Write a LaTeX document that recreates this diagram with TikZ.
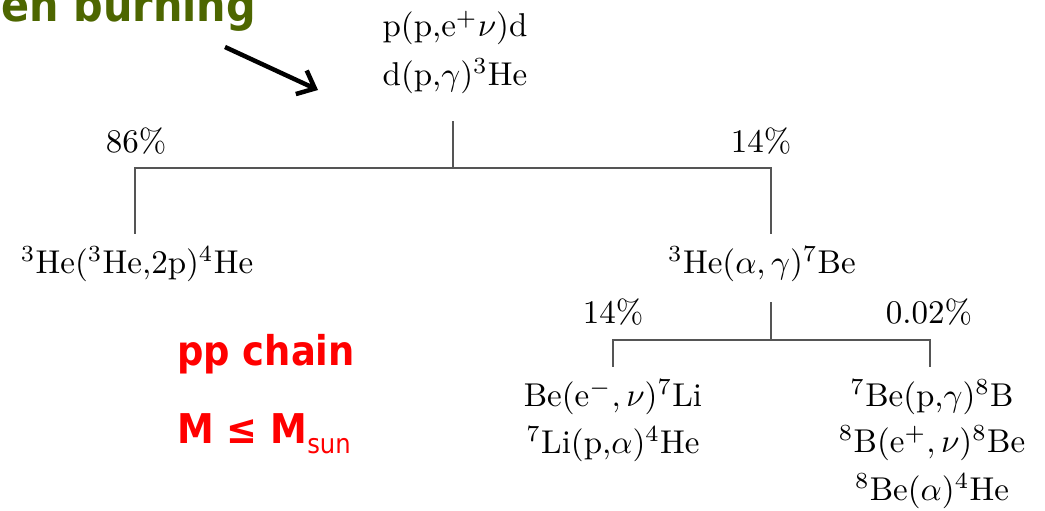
\documentclass[tikz,border=0pt]{standalone}
\usepackage{fontspec}
\newfontfamily\dvs{DejaVu Sans}
\usetikzlibrary{arrows.meta}
\definecolor{hgreen}{RGB}{77,102,0}
\definecolor{treegray}{RGB}{85,85,85}
\newcommand\rxn[1]{\scalebox{3.3}{\fontsize{10}{12}\selectfont #1}}
\begin{document}
\begin{tikzpicture}[x=1pt,y=-1pt,
  tree/.style={draw=treegray,line width=1.5pt},
  rx/.style={inner sep=0pt,anchor=base},
  redtxt/.style={inner sep=0pt,anchor=base west,text=red}]
\useasboundingbox (0,0) rectangle (1045,511);
% title (cut at the edge)
\node[inner sep=0pt,anchor=base east,text=hgreen] (title) at (256,22)
  {\scalebox{0.9}[1]{\dvs\bfseries\fontsize{46}{46}\selectfont en burning}};
\coordinate (as) at (225,47);
\coordinate (ae) at (318,90);
\draw[line width=4.5pt,-{Straight Barb[length=15pt,width=26pt]}] (as) -- (ae);
% reactions
\node[rx] (pp) at (455,37) {\rxn{p(p,e$^+\nu$)d}};
\node[rx] (dp) at (455,85) {\rxn{d(p,$\gamma$)$^3$He}};
\node[rx] (p86) at (136,152) {\rxn{86\%}};
\node[rx] (p14a) at (761,152) {\rxn{14\%}};
\node[rx] (he3) at (137,273) {\rxn{$^3$He($^3$He,2p)$^4$He}};
\node[rx] (be7) at (762,273) {\rxn{$^3$He($\alpha,\gamma$)$^7$Be}};
\node[rx] (p14b) at (613,323) {\rxn{14\%}};
\node[rx] (p002) at (929,323) {\rxn{0.02\%}};
\node[rx] (li1) at (613,406) {\rxn{Be(e$^-,\nu$)$^7$Li}};
\node[rx] (li2) at (613,453) {\rxn{$^7$Li(p,$\alpha$)$^4$He}};
\node[rx] (b1) at (932,406) {\rxn{$^7$Be(p,$\gamma$)$^8$B}};
\node[rx] (b2) at (932,452) {\rxn{$^8$B(e$^+,\nu$)$^8$Be}};
\node[rx] (b3) at (932,500) {\rxn{$^8$Be($\alpha$)$^4$He}};
% tree
\coordinate (t1) at (453,121);
\coordinate (j1) at (453,168);
\coordinate (a1) at (135,234);
\coordinate (a2) at (771,234);
\draw[tree] (t1) -- (j1) -| (a1);
\draw[tree] (j1) -| (a2);
\coordinate (t2) at (771,302);
\coordinate (j2) at (771,340);
\coordinate (c1) at (613,367);
\coordinate (c2) at (930,367);
\draw[tree] (t2) -- (j2) -| (c1);
\draw[tree] (j2) -| (c2);
% red labels
\node[redtxt] (pp chain) at (177,365)
  {\scalebox{0.9}[1]{\dvs\bfseries\fontsize{41}{41}\selectfont pp chain}};
\node[redtxt] (mass) at (177,443)
  {\scalebox{0.9}[1]{\dvs\bfseries\fontsize{41}{41}\selectfont M ≤ M}\raisebox{-10pt}{\scalebox{0.9}[1]{\dvs\fontsize{27}{27}\selectfont sun}}};
\end{tikzpicture}
\end{document}
